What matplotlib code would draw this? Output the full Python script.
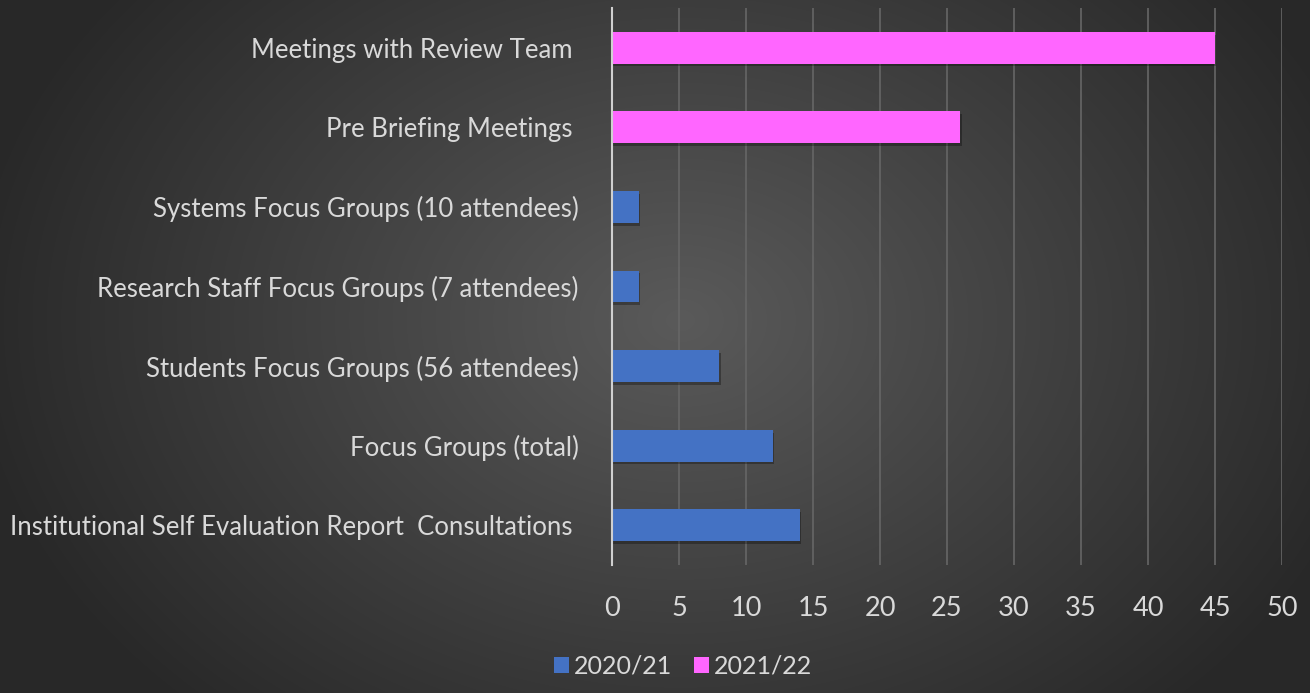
import numpy as np
import matplotlib
matplotlib.use("Agg")
import matplotlib.pyplot as plt
import matplotlib.patheffects as pe
from matplotlib.patches import Patch

categories = [
    "Meetings with Review Team ",
    "Pre Briefing Meetings ",
    "Systems Focus Groups (10 attendees)",
    "Research Staff Focus Groups (7 attendees)",
    "Students Focus Groups (56 attendees)",
    "Focus Groups (total)",
    "Institutional Self Evaluation Report  Consultations ",
]
series_2020 = [0, 0, 2, 2, 8, 12, 14]
series_2021 = [45, 26, 0, 0, 0, 0, 0]
series_names = ["2020/21", "2021/22"]
x_ticks = [0, 5, 10, 15, 20, 25, 30, 35, 40, 45, 50]

plt.rcParams['font.family'] = ['Lato', 'DejaVu Sans']
text_col = "#d9d9d9"
blue = "#4472C4"
magenta = "#FF66FF"

fig = plt.figure(figsize=(13.1, 6.93), dpi=100)

# radial gradient background
bg = fig.add_axes([0, 0, 1, 1], zorder=-10)
H, W = 693, 1310
yy, xx = np.mgrid[0:H, 0:W]
cx, cy = 680, 320
r = np.sqrt(((xx - cx) / 720.0) ** 2 + ((yy - cy) / 540.0) ** 2)
r = np.clip(r, 0, 1)
inner, outer = 0x5a / 255, 0x28 / 255
val = inner + (outer - inner) * r
img = np.dstack([val, val, val])
bg.imshow(img, aspect='auto', extent=[0, 1, 0, 1], origin='upper')
bg.axis('off')

ax = fig.add_axes([612 / W, 1 - 565 / H, (1282 - 612) / W, (565 - 8) / H])
ax.patch.set_alpha(0)

y = np.arange(len(categories))
shadow = [pe.SimplePatchShadow(offset=(1, -2), shadow_rgbFace='black', alpha=0.3), pe.Normal()]
b1 = ax.barh(y, series_2020, height=0.4, color=blue, zorder=3, label=series_names[0])
b2 = ax.barh(y, series_2021, height=0.4, color=magenta, zorder=3, label=series_names[1])
for b in list(b1) + list(b2):
    if b.get_width() > 0:
        b.set_path_effects(shadow)
    else:
        b.set_visible(False)

ax.set_ylim(len(categories) - 0.5, -0.5)
ax.set_xlim(0, 50)
ax.set_xticks(x_ticks)
ax.set_yticks(y)
ax.set_yticklabels(categories)
ax.tick_params(axis='y', length=0, colors=text_col, labelsize=18.5, pad=24)
ax.tick_params(axis='x', length=0, colors=text_col, labelsize=19.5, pad=22)
ax.grid(axis='x', color="#666666", linewidth=1.2, zorder=0)
ax.set_axisbelow(True)
for s in ['top', 'right', 'bottom']:
    ax.spines[s].set_visible(False)
ax.spines['left'].set_color("#d0d0d0")
ax.spines['left'].set_linewidth(1.5)
ax.spines['left'].set_zorder(4)

handles = [Patch(facecolor=blue, label=series_names[0]), Patch(facecolor=magenta, label=series_names[1])]
fig.legend(handles=handles, loc='center', bbox_to_anchor=(683 / W, 1 - 666 / H), ncol=2,
           frameon=False, fontsize=18, labelcolor=text_col, handlelength=0.6, handleheight=0.6,
           handletextpad=0.2, columnspacing=0.9)

fig.savefig("out.png", dpi=100)
